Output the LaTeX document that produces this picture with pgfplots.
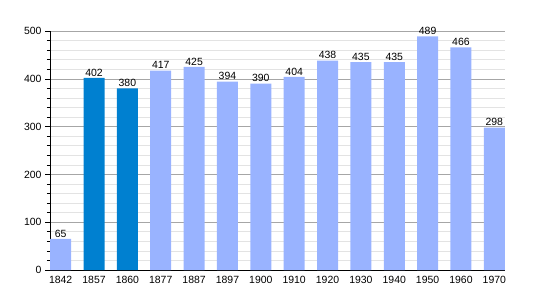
\documentclass[border=0pt]{standalone}
\usepackage{pgfplots}
\pgfplotsset{compat=1.18}
\usepackage{fontspec}
\setmainfont{Liberation Sans}
\definecolor{lb}{HTML}{99B3FF}
\definecolor{db}{HTML}{0080D0}
\begin{document}
\begin{tikzpicture}
\path[use as bounding box] (-50bp,-30bp) rectangle (485bp,270bp);
\begin{axis}[
  at={(0,0)}, anchor=south west,
  scale only axis, width=455bp, height=239bp,
  xmin=-0.32, xmax=13.32, ymin=0, ymax=500,
  xtick={0,...,13},
  xticklabels={1842,1857,1860,1877,1887,1897,1900,1910,1920,1930,1940,1950,1960,1970},
  ytick={0,100,...,500},
  minor ytick={20,40,...,480},
  ymajorgrids, yminorgrids,
  major grid style={draw=black!35, line width=0.6pt},
  minor grid style={draw=black!11, line width=0.6pt},
  axis x line*=bottom, axis y line*=left,
  axis line style={black, line width=0.9pt, -},
  x tick style={draw=none},
  y tick style={black, line width=0.6pt},
  tick align=outside,
  major tick length=5bp, minor tick length=3bp,
  ticklabel style={font=\fontsize{10.5}{12}\selectfont},
  /pgf/number format/assume math mode=true,
  xticklabel style={yshift=2bp},
  ybar, bar width=21bp, bar shift=0pt,
  nodes near coords,
  nodes near coords style={font=\fontsize{10.5}{12}\selectfont, black, inner sep=1.5bp},
  clip=false,
]
\addplot[fill=lb, draw=none] coordinates {(0,65) (3,417) (4,425) (5,394) (6,390) (7,404) (8,438) (9,435) (10,435) (11,489) (12,466) (13,298)};
\addplot[fill=db, draw=none] coordinates {(1,402) (2,380)};
\end{axis}
\end{tikzpicture}
\end{document}
